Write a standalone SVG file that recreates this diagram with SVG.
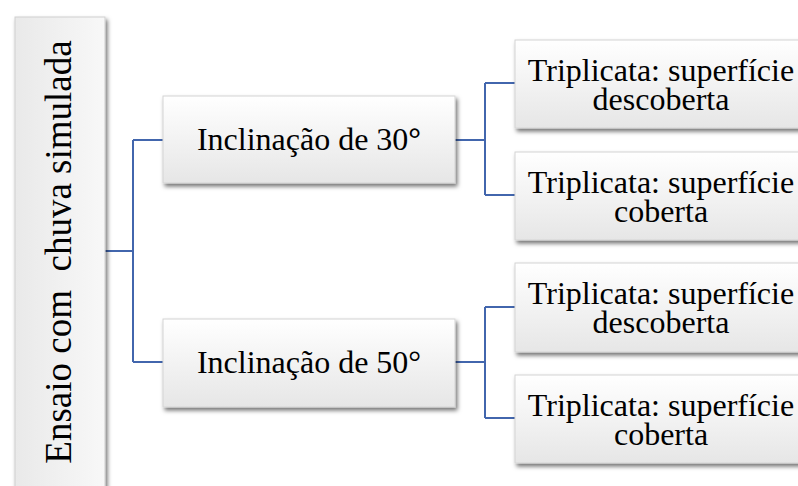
<svg xmlns="http://www.w3.org/2000/svg" width="798" height="486" viewBox="0 0 798 486">
<defs>
<linearGradient id="g" x1="0" y1="0" x2="0" y2="1">
<stop offset="0" stop-color="#ffffff"/>
<stop offset="1" stop-color="#e6e6e6"/>
</linearGradient>
<linearGradient id="gr" x1="0" y1="0" x2="1" y2="0">
<stop offset="0" stop-color="#e9e9e9"/>
<stop offset="1" stop-color="#f8f8f8"/>
</linearGradient>
<filter id="sh" x="-10%" y="-10%" width="130%" height="140%">
<feDropShadow dx="2" dy="3" stdDeviation="2" flood-color="#000" flood-opacity="0.55"/>
</filter>
<style>
.box{fill:url(#g);stroke:#d4d4d4;stroke-width:1;filter:url(#sh)}
.t{font-family:"Liberation Serif","Times New Roman",serif;font-size:32px;fill:#000;text-anchor:middle}
.c{fill:none;stroke:#4266ad;stroke-width:2}
</style>
</defs>
<rect width="798" height="486" fill="#fff"/>
<g id="connectors">
<path class="c" d="M105,251 H133 M133,140 V362 M133,140 H163 M133,362 H163"/>
<path class="c" d="M455,140 H485 M485,83 V195 M485,83 H515 M485,195 H515"/>
<path class="c" d="M455,362 H485 M485,307 V418 M485,307 H515 M485,418 H515"/>
</g>
<g id="root">
<rect x="15" y="17" width="90" height="480" fill="url(#gr)" stroke="#cfcfcf" stroke-width="1" filter="url(#sh)"/>
<text class="t" style="font-size:37px" transform="translate(71,252) rotate(-90)">Ensaio com&#160; chuva simulada</text>
</g>
<g id="n30">
<rect class="box" x="163" y="96" width="292" height="87"/>
<text class="t" x="309" y="150">Inclinação de 30<tspan font-weight="bold">°</tspan></text>
</g>
<g id="n50">
<rect class="box" x="163" y="319" width="292" height="88"/>
<text class="t" x="309" y="373">Inclinação de 50°</text>
</g>
<g id="r1">
<rect class="box" x="515" y="40" width="295" height="88"/>
<text class="t" x="661" y="81">Triplicata: superfície</text>
<text class="t" x="661" y="110">descoberta</text>
</g>
<g id="r2">
<rect class="box" x="515" y="152" width="295" height="88"/>
<text class="t" x="661" y="193">Triplicata: superfície</text>
<text class="t" x="661" y="222">coberta</text>
</g>
<g id="r3">
<rect class="box" x="515" y="263" width="295" height="89"/>
<text class="t" x="661" y="304">Triplicata: superfície</text>
<text class="t" x="661" y="333">descoberta</text>
</g>
<g id="r4">
<rect class="box" x="515" y="375" width="295" height="88"/>
<text class="t" x="661" y="416">Triplicata: superfície</text>
<text class="t" x="661" y="445">coberta</text>
</g>
</svg>
